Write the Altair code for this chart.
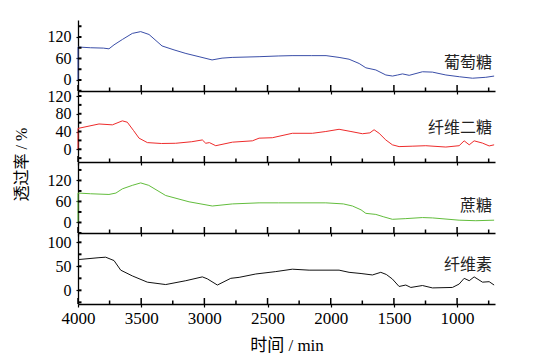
import altair as alt
import pandas as pd

# ---- data ----
glucose_w = [4000, 4000, 3900, 3800, 3755, 3715, 3649, 3570, 3504, 3438, 3335, 3240, 3146, 3042, 2939, 2860, 2780,
             2567, 2416, 2306, 2150, 2037, 1934, 1855, 1775, 1722, 1643, 1564, 1511, 1470, 1432, 1379, 1274, 1195,
             1089, 980, 878, 773, 707]
glucose_v = [0, 92, 90, 89, 87, 98, 113, 130, 135, 127, 95, 84, 74, 65, 56, 61, 63,
             65, 67, 68, 68, 68, 63, 58, 46, 34, 28, 14, 11, 14, 17, 13, 23, 22,
             14, 9, 5, 7.5, 11]

cellobiose_w = [4000, 4000, 3834, 3728, 3649, 3610, 3560, 3517, 3451, 3340, 3227, 3100, 3016, 2989, 2960, 2910, 2778,
                2620, 2567, 2462, 2304, 2145, 2039, 1934, 1840, 1749, 1690, 1657, 1617, 1564, 1512, 1459, 1350, 1248,
                1089, 984, 944, 904, 865, 800, 746, 707]
cellobiose_v = [0, 47, 57, 55, 64, 61, 42, 25, 15, 13, 13.5, 17, 21, 13.5, 15, 8, 16,
                19, 25, 26, 36, 36, 40, 45, 40, 35, 37, 44, 36, 21, 10, 6, 7, 8,
                5, 8, 19, 10, 19, 14, 7.5, 10]

sucrose_w = [4000, 4000, 3900, 3755, 3700, 3649, 3570, 3504, 3440, 3306, 3121, 2937, 2778, 2567, 2414, 2039, 1900,
             1828, 1760, 1722, 1643, 1580, 1512, 1406, 1274, 1195, 984, 852, 707]
sucrose_v = [0, 84, 82, 80, 84, 96, 106, 113, 106, 77, 59, 47, 53, 56, 56, 56, 53,
             47, 36, 26, 23, 16, 9, 11, 14, 13, 6.5, 5, 6.5]

cellulose_w = [4000, 3834, 3781, 3715, 3662, 3570, 3451, 3306, 3147, 3016, 2977, 2897, 2791, 2725, 2593, 2435, 2304,
               2171, 1934, 1855, 1760, 1670, 1604, 1560, 1512, 1459, 1406, 1366, 1274, 1195, 1037, 984, 944, 904,
               865, 799, 746, 707]
cellulose_v = [64, 68, 69, 62, 42, 30, 17, 12, 20, 28, 24, 11, 25, 27, 34, 39, 44,
               42, 42, 37.5, 35, 32, 37.5, 33, 23.5, 8, 11, 6, 10, 5, 6, 13, 25, 20,
               28, 17, 18, 11]

names = ["葡萄糖", "纤维二糖", "蔗糖", "纤维素"]
label_w = [723, 723, 723, 723]
label_v = [47, 47.5, 47, 52.7]

x_major = [4000, 3500, 3000, 2500, 2000, 1500, 1000]
x_minor = [3750, 3250, 2750, 2250, 1750, 1250, 750]

SERIF = "Liberation Serif"
CJK = "Liberation Serif, Noto Sans CJK SC"
W = 417
H = 71
XS = alt.Scale(domain=[700, 4000], reverse=True, nice=False, zero=False)


def panel(ws, vs, color, ydom, ymaj, ymin, name, lw, lv, bottom=False, ytitle=False):
    df = pd.DataFrame({"w": ws, "v": vs, "i": list(range(len(ws)))})
    ys = alt.Scale(domain=ydom, nice=False, zero=False)

    xkw = dict(orient="bottom", values=x_major, format="d", labels=bottom, ticks=True, tickSize=3,
               tickColor="black", tickWidth=1.2,
               domain=True, domainColor="black", domainWidth=1.3, grid=False,
               labelFlush=False, labelOverlap=False, labelPadding=3, labelFontSize=17,
               labelFont=SERIF, labelColor="black")
    if bottom:
        xkw.update(titleFont=CJK, titleFontSize=17, titleFontWeight="normal",
                   titlePadding=11, titleColor="black")
    ykw = dict(orient="left", values=ymaj, format="d", ticks=True, tickSize=2,
               tickColor="black", tickWidth=1.2, domain=True,
               domainColor="black", domainWidth=1.3, grid=False, labelFlush=False,
               labelOverlap=False, labelPadding=5, labelFontSize=16, labelFont=SERIF,
               labelColor="black")
    if ytitle:
        ykw.update(titleFont=CJK, titleFontSize=16, titleFontWeight="normal",
                   titleX=-57, titleY=73, titleAngle=270, titleAlign="center",
                   titleBaseline="middle", titleColor="black")
    xtitle = "时间 / min" if bottom else None
    ytit = "透过率 / %" if ytitle else None

    def xenc(field):
        return alt.X(field, scale=XS, axis=alt.Axis(**xkw), title=xtitle)

    def yenc(field):
        return alt.Y(field, scale=ys, axis=alt.Axis(**ykw), title=ytit)

    line = alt.Chart(df).mark_line(color=color, strokeWidth=1).encode(
        x=xenc("w:Q"), y=yenc("v:Q"), order="i:Q",
    )

    # inward axis ticks (major / minor) along the bottom and left edges
    xt_maj = alt.Chart(pd.DataFrame({"t": x_major})).mark_rule(
        color="black", strokeWidth=1.5
    ).encode(x=xenc("t:Q"), y=alt.value(H), y2=alt.value(H - 6))
    xt_min = alt.Chart(pd.DataFrame({"t": x_minor})).mark_rule(
        color="black", strokeWidth=1.5
    ).encode(x=xenc("t:Q"), y=alt.value(H), y2=alt.value(H - 3.5))
    yt = alt.Chart(pd.DataFrame({"t": ymaj + ymin})).mark_rule(
        color="black", strokeWidth=2
    ).encode(y=yenc("t:Q"), x=alt.value(0), x2=alt.value(3.5))

    ldf = pd.DataFrame({"w": [lw], "v": [lv], "t": [name]})
    text = alt.Chart(ldf).mark_text(align="right", baseline="middle", font=CJK,
                                    fontSize=16, color="#222222").encode(
        x=xenc("w:Q"), y=yenc("v:Q"), text="t:N",
    )

    return alt.layer(line, xt_maj, xt_min, yt, text).properties(width=W, height=H)


p1 = panel(glucose_w, glucose_v, "#3a4ea8", [-30.7, 167.4], [0, 60, 120], [-30, 30, 90, 150],
           names[0], label_w[0], label_v[0])
p2 = panel(cellobiose_w, cellobiose_v, "#ee2b2b", [-28.7, 131.3], [0, 40, 80, 120], [-20, 20, 60, 100],
           names[1], label_w[1], label_v[1], ytitle=True)
p3 = panel(sucrose_w, sucrose_v, "#62bd3c", [-30.1, 172.7], [0, 60, 120], [-30, 30, 90, 150],
           names[2], label_w[2], label_v[2])
p4 = panel(cellulose_w, cellulose_v, "#111111", [-28.5, 119.4], [0, 50, 100], [-25, 25, 75],
           names[3], label_w[3], label_v[3], bottom=True)

chart = alt.vconcat(p1, p2, p3, p4, spacing=0, bounds="flush").configure_view(
    stroke=None
).properties(
    padding={"left": 5, "top": 12, "right": 5, "bottom": 5},
    background="white",
)

chart.save("out.html", embed_options={"renderer": "svg", "actions": False})
